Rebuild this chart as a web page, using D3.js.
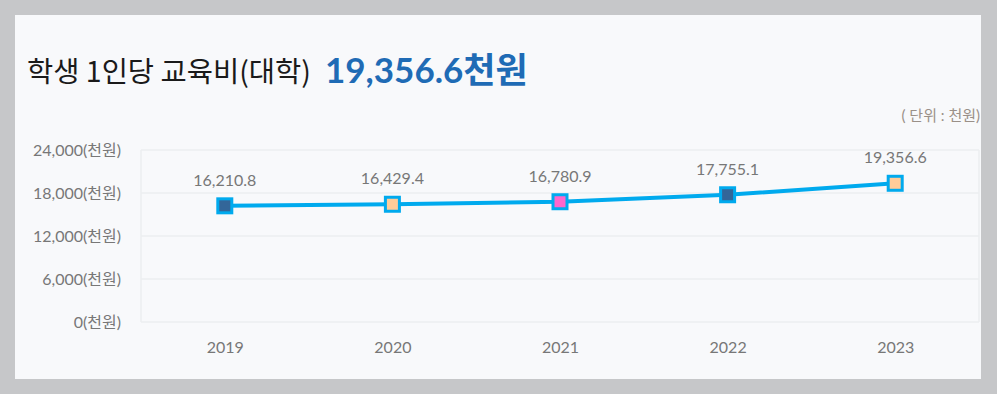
<!DOCTYPE html>
<html><head><meta charset="utf-8">
<script src="https://cdn.jsdelivr.net/npm/d3@7"></script>
<style>
html,body{margin:0;padding:0;background:#c6c7c9;}
svg{display:block;}
</style></head>
<body>
<svg id="chart" width="997" height="394"></svg>
<script>
const years = ["2019","2020","2021","2022","2023"];
const values = [16210.8, 16429.4, 16780.9, 17755.1, 19356.6];
const markerFills = ["#336699","#ffcc99","#ff66cc","#336699","#ffcc99"];
const yTicks = [0, 6000, 12000, 18000, 24000];
const titleText = "학생 1인당 교육비(대학)";
const headlineText = "19,356.6천원";
const unitText = "( 단위 : 천원)";

const svg = d3.select("#chart");
const panel = {x:15, y:15, w:966, h:364};
const m = {left:141, right:979, top:150, bottom:322};

svg.append("rect").attr("x",panel.x).attr("y",panel.y).attr("width",panel.w).attr("height",panel.h).attr("fill","#f8f9fb");

svg.append("text").attr("x",27).attr("y",82)
  .attr("font-family","'Noto Sans CJK KR', sans-serif").attr("font-size",28.5).attr("fill","#1a1a1a")
  .text(titleText);
svg.append("text").attr("x",325).attr("y",83)
  .attr("font-family","Lato, 'Noto Sans CJK KR', sans-serif").attr("font-weight","bold").attr("font-size",35).attr("fill","#1f6bb5")
  .text(headlineText);
svg.append("text").attr("x",980).attr("y",121).attr("text-anchor","end")
  .attr("font-family","Lato, 'Noto Sans CJK KR', sans-serif").attr("font-size",15).attr("fill","#9a9088")
  .text(unitText);

const x = d3.scalePoint().domain(years).range([m.left, m.right]).padding(0.5);
const y = d3.scaleLinear().domain([0,24000]).range([m.bottom, m.top]);

const g = svg.append("g");
g.selectAll("line.grid").data(yTicks).join("line")
  .attr("x1",m.left).attr("x2",m.right).attr("y1",d=>y(d)).attr("y2",d=>y(d))
  .attr("stroke","#eceef1").attr("stroke-width",1.5);
g.append("line").attr("x1",m.left).attr("x2",m.left).attr("y1",m.top).attr("y2",m.bottom).attr("stroke","#eceef1").attr("stroke-width",1.5);
g.append("line").attr("x1",m.right).attr("x2",m.right).attr("y1",m.top).attr("y2",m.bottom).attr("stroke","#eceef1").attr("stroke-width",1.5);

const yAxis = d3.axisLeft(y).tickValues(yTicks).tickSize(0).tickPadding(20)
  .tickFormat(d=>d3.format(",")(d)+"(천원)");
const ya = svg.append("g").attr("transform",`translate(${m.left},0)`).call(yAxis);
ya.select(".domain").remove();
ya.selectAll("text").attr("font-family","Lato, 'Noto Sans CJK KR', sans-serif").attr("font-size",16).attr("fill","#777");

const xAxis = d3.axisBottom(x).tickSize(0).tickPadding(20);
const xa = svg.append("g").attr("transform",`translate(0,${m.bottom})`).call(xAxis);
xa.select(".domain").remove();
xa.selectAll("text").attr("font-family","Lato, sans-serif").attr("font-size",16).attr("fill","#777");

const line = d3.line().x((d,i)=>x(years[i])).y(d=>y(d));
svg.append("path").datum(values).attr("d",line).attr("fill","none").attr("stroke","#00aaee").attr("stroke-width",4);

const s = 14;
svg.selectAll("rect.mk").data(values).join("rect")
  .attr("x",(d,i)=>x(years[i])-s/2).attr("y",d=>y(d)-s/2).attr("width",s).attr("height",s)
  .attr("fill",(d,i)=>markerFills[i]).attr("stroke","#00aaee").attr("stroke-width",3);

svg.selectAll("text.lbl").data(values).join("text")
  .attr("x",(d,i)=>x(years[i])).attr("y",d=>y(d)-20).attr("text-anchor","middle")
  .attr("font-family","Lato, sans-serif").attr("font-size",16).attr("fill","#777")
  .text(d=>d3.format(",.1f")(d));
</script>
</body></html>
